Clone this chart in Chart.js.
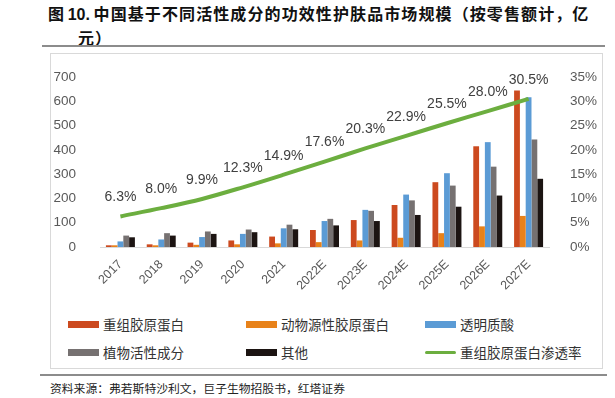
<!DOCTYPE html>
<html>
<head>
<meta charset="utf-8">
<script src="https://cdn.jsdelivr.net/npm/chart.js@4"></script>
<style>
  body { margin: 0; width: 615px; height: 398px; background: #fff; position: relative; overflow: hidden; font-family: "Noto Sans CJK SC", sans-serif; }
  .title { position: absolute; left: 48px; top: 2px; font-size: 16px; font-weight: bold; line-height: 22px; color: #111; white-space: nowrap; }
  .title .num { font-family: "Liberation Sans", Arial, sans-serif; }
  .title .cn { letter-spacing: 1.1px; }
  .rule { position: absolute; height: 2px; background: #8c8c8c; }
  .box { position: absolute; left: 50px; top: 53px; width: 551px; height: 314px; border: 1px solid #d9d9d9; }
  #chartCanvas { position: absolute; left: 50px; top: 53px; }
  .legend { position: absolute; left: 68px; top: 310px; display: grid; grid-template-columns: 178px 179px 180px; grid-auto-rows: 28px; }
  .legend .item { display: flex; align-items: center; font-size: 13.5px; color: #333; }
  .legend .sw { width: 31px; height: 7px; margin-right: 4px; }
  .source { position: absolute; left: 50px; top: 379px; font-size: 11.8px; color: #222; white-space: nowrap; }
</style>
</head>
<body>
<div class="title">图 <span class="num">10.</span> <span class="cn">中国基于不同活性成分的功效性护肤品市场规模（按零售额计，亿</span><br><span class="cn" style="padding-left:30px">元）</span></div>
<div class="rule" style="left:42px; top:45px; width:563px;"></div>
<div class="box"></div>
<canvas id="chartCanvas" width="552" height="252"></canvas>
<div class="legend" id="legend"></div>
<div class="rule" style="left:40px; top:374px; width:567px;"></div>
<div class="source">资料来源：弗若斯特沙利文，巨子生物招股书，红塔证券</div>

<script>
const years = ['2017', '2018', '2019', '2020', '2021', '2022E', '2023E', '2024E', '2025E', '2026E', '2027E'];

// 市场规模（亿元）
const recombinant = [7, 11, 18, 27, 43, 70, 111, 173, 267, 415, 645];
const animal = [7, 7, 9, 11, 15, 20, 27, 38, 57, 85, 128];
const hyaluronic = [23, 31, 41, 54, 77, 107, 153, 216, 304, 432, 617];
const plant = [47, 57, 64, 72, 92, 116, 149, 192, 253, 331, 443];
const others = [40, 47, 54, 61, 73, 89, 107, 132, 166, 212, 281];

// 重组胶原蛋白渗透率（%）
const penetration = [6.3, 8.0, 9.9, 12.3, 14.9, 17.6, 20.3, 22.9, 25.5, 28.0, 30.5];

const seriesNames = ['重组胶原蛋白', '动物源性胶原蛋白', '透明质酸', '植物活性成分', '其他'];
const lineName = '重组胶原蛋白渗透率';

const leftTicks = [0, 100, 200, 300, 400, 500, 600, 700];
const rightTicks = [0, 5, 10, 15, 20, 25, 30, 35];

const barColors = ['#cc4a1f', '#e8821a', '#5b9bd5', '#767171', '#1c1412'];
const lineColor = '#6cae3f';

const tickFont = { family: 'Liberation Sans', size: 13.5 };

// 折线数据标签
const lineLabels = {
    id: 'lineLabels',
    afterDatasetsDraw(chart) {
        const ctx = chart.ctx;
        const idx = chart.data.datasets.findIndex(d => d.type === 'line');
        const meta = chart.getDatasetMeta(idx);
        ctx.save();
        ctx.font = '14px "Liberation Sans"';
        ctx.fillStyle = '#404040';
        ctx.textAlign = 'center';
        ctx.textBaseline = 'middle';
        meta.data.forEach((p, i) => {
            ctx.fillText(penetration[i].toFixed(1) + '%', p.x, p.y - 19);
        });
        ctx.restore();
    }
};

document.addEventListener('DOMContentLoaded', () => {
    const barSets = [recombinant, animal, hyaluronic, plant, others].map((vals, i) => ({
        type: 'bar',
        label: seriesNames[i],
        data: vals,
        backgroundColor: barColors[i],
        yAxisID: 'y',
        categoryPercentage: 0.71,
        barPercentage: 1,
        order: 1
    }));

    const ctx = document.getElementById('chartCanvas').getContext('2d');
    new Chart(ctx, {
        data: {
            labels: years,
            datasets: [...barSets, {
                type: 'line',
                label: lineName,
                data: penetration,
                borderColor: lineColor,
                backgroundColor: lineColor,
                borderWidth: 4,
                pointRadius: 0,
                tension: 0.35,
                yAxisID: 'y1',
                order: 0
            }]
        },
        options: {
            responsive: false,
            animation: false,
            layout: { padding: { top: 21, left: 0, right: 0, bottom: 0 } },
            plugins: {
                legend: { display: false },
                tooltip: { enabled: false }
            },
            scales: {
                x: {
                    grid: { display: false },
                    border: { display: true, color: '#d9d9d9' },
                    ticks: {
                        color: '#595959',
                        font: { family: 'Liberation Sans', size: 12.5 },
                        minRotation: 45,
                        maxRotation: 45,
                        autoSkip: false,
                        padding: 2
                    },
                    afterFit: s => { s.height = 58; }
                },
                y: {
                    position: 'left',
                    min: 0,
                    max: 700,
                    grid: { display: false },
                    border: { display: false },
                    afterBuildTicks: s => { s.ticks = leftTicks.map(v => ({ value: v })); },
                    ticks: { color: '#595959', font: tickFont, padding: 16 },
                    afterFit: s => { s.width = 50; }
                },
                y1: {
                    position: 'right',
                    min: 0,
                    max: 35,
                    grid: { display: false },
                    border: { display: false },
                    afterBuildTicks: s => { s.ticks = rightTicks.map(v => ({ value: v })); },
                    ticks: { color: '#595959', font: tickFont, padding: 13, callback: v => v + '%' },
                    afterFit: s => { s.width = 53; }
                }
            }
        },
        plugins: [lineLabels]
    });

    // 图例
    const legend = document.getElementById('legend');
    const items = seriesNames.map((n, i) => ({ name: n, color: barColors[i], line: false }));
    items.push({ name: lineName, color: lineColor, line: true });
    items.forEach(it => {
        const el = document.createElement('div');
        el.className = 'item';
        const sw = document.createElement('span');
        sw.className = 'sw';
        sw.style.background = it.color;
        if (it.line) { sw.style.height = '3px'; sw.style.borderRadius = '2px'; }
        el.appendChild(sw);
        el.appendChild(document.createTextNode(it.name));
        legend.appendChild(el);
    });
});
</script>
</body>
</html>
